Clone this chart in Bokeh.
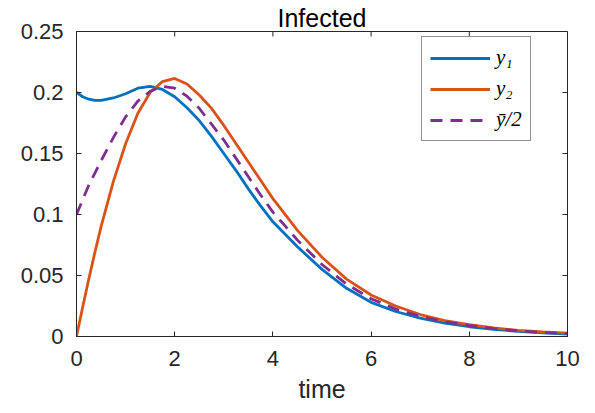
import math
from bokeh.plotting import figure
from bokeh.models import Range1d, FixedTicker, Legend, LegendItem
from bokeh.embed import file_html
from bokeh.resources import INLINE

# ---- data ----
t = [0, 0.125, 0.25, 0.375, 0.5, 0.75, 1.0, 1.25, 1.5, 1.75, 2.0, 2.25, 2.5,
     2.75, 3.0, 3.25, 3.5, 3.75, 4.0, 4.5, 5.0, 5.5, 6.0, 6.5, 7.0, 7.5,
     8.0, 8.5, 9.0, 9.5, 10.0]
y1 = [0.200, 0.1965, 0.1945, 0.1935, 0.1935, 0.1955, 0.199, 0.2035, 0.205,
      0.2025, 0.1965, 0.1875, 0.177, 0.164, 0.150, 0.136, 0.121, 0.107,
      0.094, 0.0735, 0.055, 0.0395, 0.028, 0.0205, 0.015, 0.011, 0.008,
      0.0058, 0.0042, 0.003, 0.002]
y2 = [0.0, 0.024, 0.047, 0.069, 0.090, 0.127, 0.158, 0.183, 0.200, 0.209,
      0.2115, 0.207, 0.198, 0.187, 0.173, 0.158, 0.143, 0.128, 0.113, 0.087,
      0.065, 0.047, 0.034, 0.025, 0.018, 0.013, 0.0098, 0.007, 0.005,
      0.0037, 0.0027]
ybar_half = [0.100, 0.112, 0.124, 0.134, 0.144, 0.163, 0.180, 0.193, 0.201,
             0.205, 0.2035, 0.197, 0.187, 0.174, 0.161, 0.146, 0.131, 0.116,
             0.102, 0.079, 0.059, 0.043, 0.031, 0.0225, 0.0165, 0.012, 0.009,
             0.0065, 0.0046, 0.0033, 0.0024]
series_labels = ["y\u2081", "y\u2082", "y\u0304/2"]
x_ticks = [0, 2, 4, 6, 8, 10]
x_tick_labels = ["0", "2", "4", "6", "8", "10"]
y_ticks = [0, 0.05, 0.1, 0.15, 0.2, 0.25]
y_tick_labels = ["0", "0.05", "0.1", "0.15", "0.2", "0.25"]
x_min, x_max = 0, 10
y_min, y_max = 0, 0.25

FONT = "Liberation Sans"
AX = "#262626"
colors = ["#0072BD", "#D95319", "#7E2F8E"]

p = figure(frame_width=491, frame_height=305, output_backend="svg",
           toolbar_location=None,
           x_range=Range1d(x_min, x_max), y_range=Range1d(y_min, y_max),
           min_border_left=76, min_border_right=28, min_border_top=31,
           min_border_bottom=77, x_axis_label="time")
p.grid.visible = False
p.outline_line_color = AX
p.outline_line_width = 1
p.background_fill_color = "white"
p.border_fill_color = "white"

p.title.text = "Infected"
p.title.align = "center"
p.title.text_font = FONT
p.title.text_font_size = "25px"
p.title.text_font_style = "normal"
p.title.text_color = "black"
p.title.standoff = 0

def style_axis(ax):
    ax.axis_line_color = AX
    ax.major_tick_line_color = AX
    ax.major_tick_in = 5
    ax.major_tick_out = 0
    ax.minor_tick_line_color = None
    ax.major_label_text_color = AX
    ax.major_label_text_font = FONT
    ax.major_label_text_font_size = "22px"
    ax.axis_label_text_font = FONT
    ax.axis_label_text_font_size = "25px"
    ax.axis_label_text_font_style = "normal"
    ax.axis_label_text_color = AX

xa = p.xaxis[0]
xa.ticker = FixedTicker(ticks=x_ticks)
xa.major_label_overrides = dict(zip(x_ticks, x_tick_labels))
style_axis(xa)
xa.major_label_standoff = 14
xa.axis_label_standoff = 6

ya = p.yaxis[0]
ya.ticker = FixedTicker(ticks=y_ticks)
ya.major_label_overrides = dict(zip(y_ticks, y_tick_labels))
style_axis(ya)
ya.major_label_standoff = 13

# mirrored inward ticks on the top and right edges of the box
p.ray(x=x_ticks, y=[y_max] * len(x_ticks), length=5, length_units="screen",
      angle=-math.pi / 2, line_color=AX, line_width=1)
p.ray(x=[x_max] * len(y_ticks), y=y_ticks, length=5, length_units="screen",
      angle=math.pi, line_color=AX, line_width=1)

r1 = p.line(t, y1, line_color=colors[0], line_width=2.8)
r2 = p.line(t, y2, line_color=colors[1], line_width=2.8)
r3 = p.line(t, ybar_half, line_color=colors[2], line_width=2.8, line_dash="12 8")

legend = Legend(items=[LegendItem(label=series_labels[0], renderers=[r1]),
                       LegendItem(label=series_labels[1], renderers=[r2]),
                       LegendItem(label=series_labels[2], renderers=[r3])],
                location=(345, 195))
legend.label_text_font = "Liberation Serif"
legend.label_text_font_style = "italic"
legend.label_text_font_size = "21px"
legend.label_text_color = "black"
legend.glyph_width = 60
legend.glyph_height = 22
legend.label_height = 22
legend.spacing = 6
legend.padding = 8
legend.margin = 0
legend.label_standoff = 6
legend.border_line_color = AX
legend.border_line_width = 1
legend.background_fill_alpha = 1
p.add_layout(legend, "center")

open("out.html", "w").write(file_html(p, INLINE))
